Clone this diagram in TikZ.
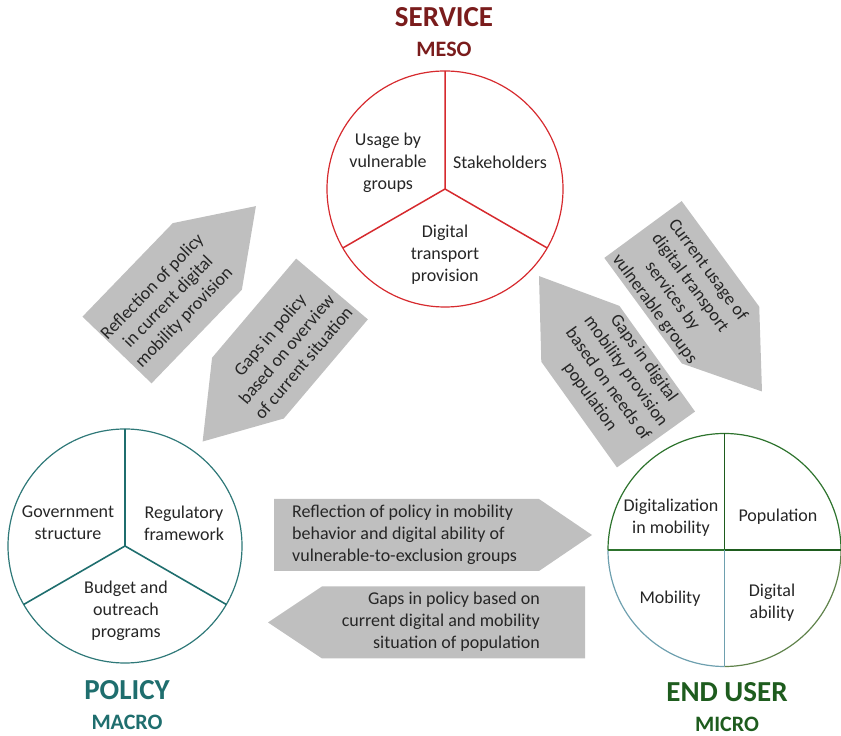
\documentclass[tikz,border=0pt]{standalone}
\usepackage{fontspec}
\setmainfont{Carlito}
\usepackage{xcolor}
\usetikzlibrary{positioning}
\definecolor{servicered}{RGB}{122,28,28}
\definecolor{serviceline}{RGB}{214,42,46}
\definecolor{policyteal}{RGB}{31,110,110}
\definecolor{policyline}{RGB}{46,120,120}
\definecolor{userdark}{RGB}{30,92,30}
\definecolor{userline}{RGB}{45,115,45}
\definecolor{userblue}{RGB}{110,160,175}
\definecolor{userolive}{RGB}{95,130,75}
\definecolor{arrowgray}{RGB}{191,191,191}
\newcommand{\ringsize}{234pt}
\newcommand{\blockarrow}[3]{\fill[arrowgray] (0,-#3) -- (#1,-#3) -- (#1+#2,0) -- (#1,#3) -- (0,#3) -- cycle;}

\tikzset{
  part/.style={align=center, font=\fontsize{18}{22}\selectfont, text=black!85},
  flowtext/.style={align=center, inner sep=0pt, font=\fontsize{18}{22}\selectfont, text=black!85},
  level/.style={anchor=base, font=\bfseries\fontsize{29}{30}\selectfont},
  sublevel/.style={anchor=base, font=\bfseries\fontsize{22}{24}\selectfont},
}

\begin{document}
\begin{tikzpicture}[x=1pt,y=1pt]
    \useasboundingbox (0,0) rectangle (841,736);

    % the three rings
    \begin{scope}[every node/.style={circle,inner sep=0pt,outer sep=0pt}]
        \node[draw=serviceline,line width=1.2pt,minimum size=236pt] (service) at (445,547) {};
        \node[draw=policyline,line width=1.2pt,minimum size=\ringsize] (policy) at (125,190) {};
        \node[minimum size=233pt] (enduser) at (724.5,186) {};
    \end{scope}

    \draw[serviceline,line width=1.5pt] (service.center) -- (service.90)
        (service.center) -- (service.210) (service.center) -- (service.330);
    \draw[policyteal,line width=1.6pt] (policy.center) -- (policy.90)
        (policy.center) -- (policy.210) (policy.center) -- (policy.330);

    \draw[userline,line width=1.2pt] (enduser.0) arc[start angle=0,end angle=180,radius=116.5];
    \draw[userblue,line width=1.2pt] (enduser.180) arc[start angle=180,end angle=270,radius=116.5];
    \draw[userolive,line width=1.2pt] (enduser.270) arc[start angle=270,end angle=360,radius=116.5];
    \draw[userdark,line width=1.8pt] (enduser.center) -- (enduser.90) (enduser.center) -- (enduser.0);
    \draw[userline,line width=1.2pt] (enduser.center) -- (enduser.180);
    \draw[userblue,line width=1.2pt] (enduser.center) -- (enduser.270);

    % ring contents
    \node[part] (usage) at (388,573) {Usage by\\vulnerable\\groups};
    \node[part] (stake) at (500,574) {Stakeholders};
    \node[part] (provision) at (445,481) {Digital\\transport\\provision};
    \node[part] (govern) at (68,213) {Government\\structure};
    \node[part] (regul) at (184,213) {Regulatory\\framework};
    \node[part] (budget) at (126,125) {Budget and\\outreach\\programs};
    \node[part] (digit) at (671,218) {Digitalization\\in mobility};
    \node[part] (popul) at (778,219) {Population};
    \node[part] (mobil) at (670,137) {Mobility};
    \node[part] (ability) at (772,133) {Digital\\ability};

    % level titles
    \node[level,text=servicered] (servtitle) at (444,709) {SERVICE};
    \node[sublevel,text=servicered] (meso) at (444,679) {MESO};
    \node[level,text=policyteal] (poltitle) at (127,36) {POLICY};
    \node[sublevel,text=policyteal] (macro) at (127,6) {MACRO};
    \node[level,text=userdark] (usertitle) at (727,34) {END USER};
    \node[sublevel,text=userdark] (micro) at (727,4) {MICRO};

    % flows between the levels
    \begin{scope}[shift={(117,386)},rotate=46]
        \blockarrow{130}{70}{48}
        \node[flowtext,transform shape] (polserv) at (70,-4) {Reflection of policy\\in current digital\\mobility provision};
    \end{scope}
    \begin{scope}[shift={(332,447)},rotate=229.7]
        \blockarrow{130}{70}{47}
        \node[flowtext,transform shape,rotate=180] (servpol) at (75,4) {Gaps in policy\\based on overview\\of current situation};
    \end{scope}
    \begin{scope}[shift={(643,506.5)},rotate=-53.7]
        \blockarrow{131}{70}{48}
        \node[flowtext,transform shape] (servuser) at (71,-5) {Current usage of\\digital transport\\services by\\vulnerable groups};
    \end{scope}
    \begin{scope}[shift={(656,296.5)},rotate=125.6]
        \blockarrow{130}{71}{48}
        \node[flowtext,transform shape,rotate=180] (userserv) at (73,-4) {Gaps in digital\\mobility provision\\based on needs of\\population};
    \end{scope}
    \begin{scope}[shift={(274,201)}]
        \blockarrow{265}{53}{36}
    \end{scope}
    \node[flowtext,align=left,anchor=west] (poluser) at (292,201) {Reflection of policy in mobility\\behavior and digital ability of\\vulnerable-to-exclusion groups};
    \begin{scope}[shift={(585,113.5)},xscale=-1]
        \blockarrow{263}{54}{36}
    \end{scope}
    \node[flowtext,align=right,anchor=east] (userpol) at (540,114) {Gaps in policy based on\\current digital and mobility\\situation of population};
\end{tikzpicture}
\end{document}
